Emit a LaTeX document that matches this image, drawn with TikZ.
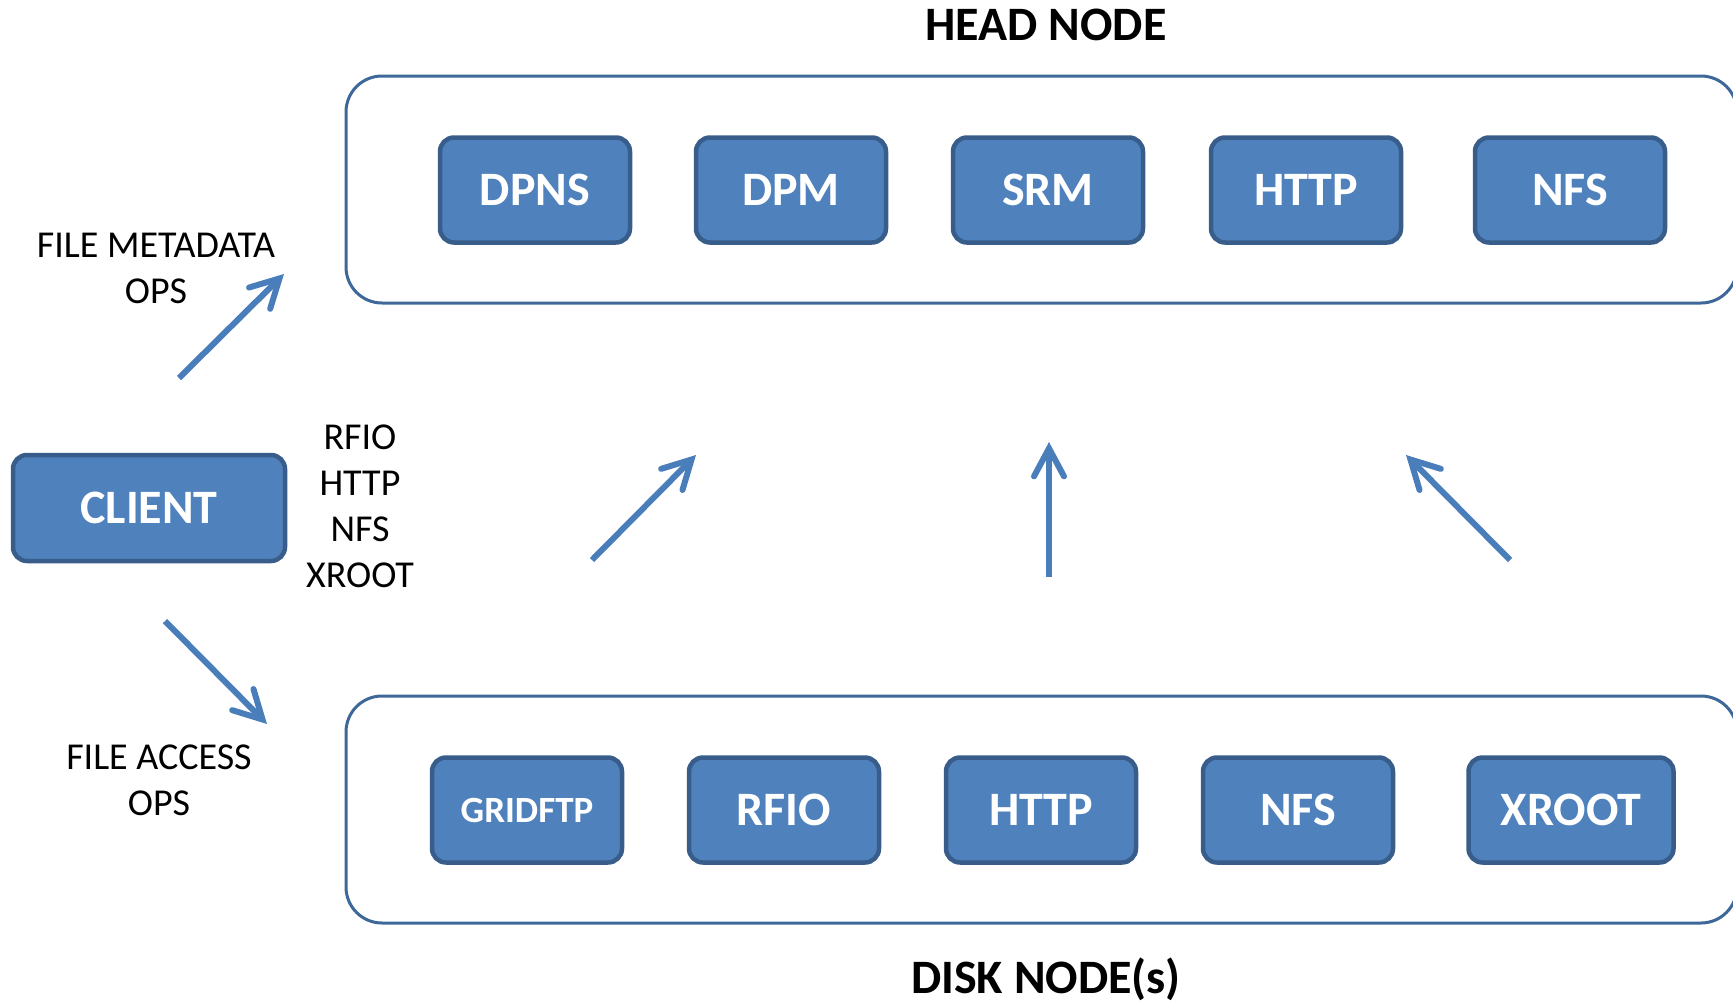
\documentclass[tikz,border=0pt]{standalone}
\usepackage{fontspec}
\setmainfont{Carlito}
\usetikzlibrary{arrows.meta}
\definecolor{boxfill}{HTML}{4F81BD}
\definecolor{boxline}{HTML}{385D8A}
\definecolor{contline}{HTML}{3E6899}
\definecolor{arrowc}{HTML}{4A7EBB}
\tikzset{
  svc/.style={draw=boxline, line width=4.5pt, fill=boxfill, rounded corners=14pt,
    minimum width=190pt, minimum height=105pt, text=white, inner sep=0pt,
    font=\fontsize{48}{52}\selectfont\bfseries},
  container/.style={draw=contline, line width=3pt, rounded corners=36pt, inner sep=0pt},
  title/.style={font=\fontsize{48}{52}\selectfont\bfseries, inner sep=0pt},
  lbl/.style={font=\fontsize{38}{46}\selectfont, align=center, inner sep=0pt},
  flow/.style={draw=arrowc, line width=6pt,
    -{Straight Barb[length=28pt, width=30pt, line width=6pt, line cap=round]}},
}
\begin{document}
\begin{tikzpicture}[x=1pt, y=-1pt]
\useasboundingbox (0,0) rectangle (1733,1002);
% containers
\node[container, minimum width=1391pt, minimum height=227pt] (head) at (1041.5,189.5) {};
\node[container, minimum width=1391pt, minimum height=227pt] (disk) at (1041.5,809.5) {};
% titles
\node[title] (headt) at (1046,25) {HEAD NODE};
\node[title] (diskt) at (1046,979) {DISK NODE(s)};
% head services
\node[svc] (dpns) at (535,190) {DPNS};
\node[svc] (dpm) at (791,190) {DPM};
\node[svc] (srm) at (1048,190) {SRM};
\node[svc] (hhttp) at (1306,190) {HTTP};
\node[svc] (hnfs) at (1570,190) {NFS};
% disk services
\node[svc, font=\fontsize{37}{40}\selectfont\bfseries] (gridftp) at (527,810) {GRIDFTP};
\node[svc] (rfio) at (784,810) {RFIO};
\node[svc] (dhttp) at (1041,810) {HTTP};
\node[svc] (dnfs) at (1298,810) {NFS};
\node[svc, minimum width=205pt] (xroot) at (1571,810) {XROOT};
% client
\node[svc, minimum width=272pt, minimum height=106pt] (client) at (149,508) {CLIENT};
% labels
\node[lbl] (meta) at (156,268) {FILE METADATA\\OPS};
\node[lbl] (acc) at (159,780) {FILE ACCESS\\OPS};
\node[lbl] (protos) at (360,506) {RFIO\\HTTP\\NFS\\XROOT};
% arrow end points
\coordinate (m1) at (179,378); \coordinate (m2) at (284,274);
\coordinate (c1) at (165,621); \coordinate (c2) at (267,724);
\coordinate (l1) at (592,560); \coordinate (l2) at (696,455);
\coordinate (v1) at (1049,577); \coordinate (v2) at (1049,442);
\coordinate (r1) at (1510,560); \coordinate (r2) at (1406,455);
\draw[flow] (m1) -- (m2);
\draw[flow] (c1) -- (c2);
\draw[flow] (l1) -- (l2);
\draw[flow] (v1) -- (v2);
\draw[flow] (r1) -- (r2);
\end{tikzpicture}
\end{document}
